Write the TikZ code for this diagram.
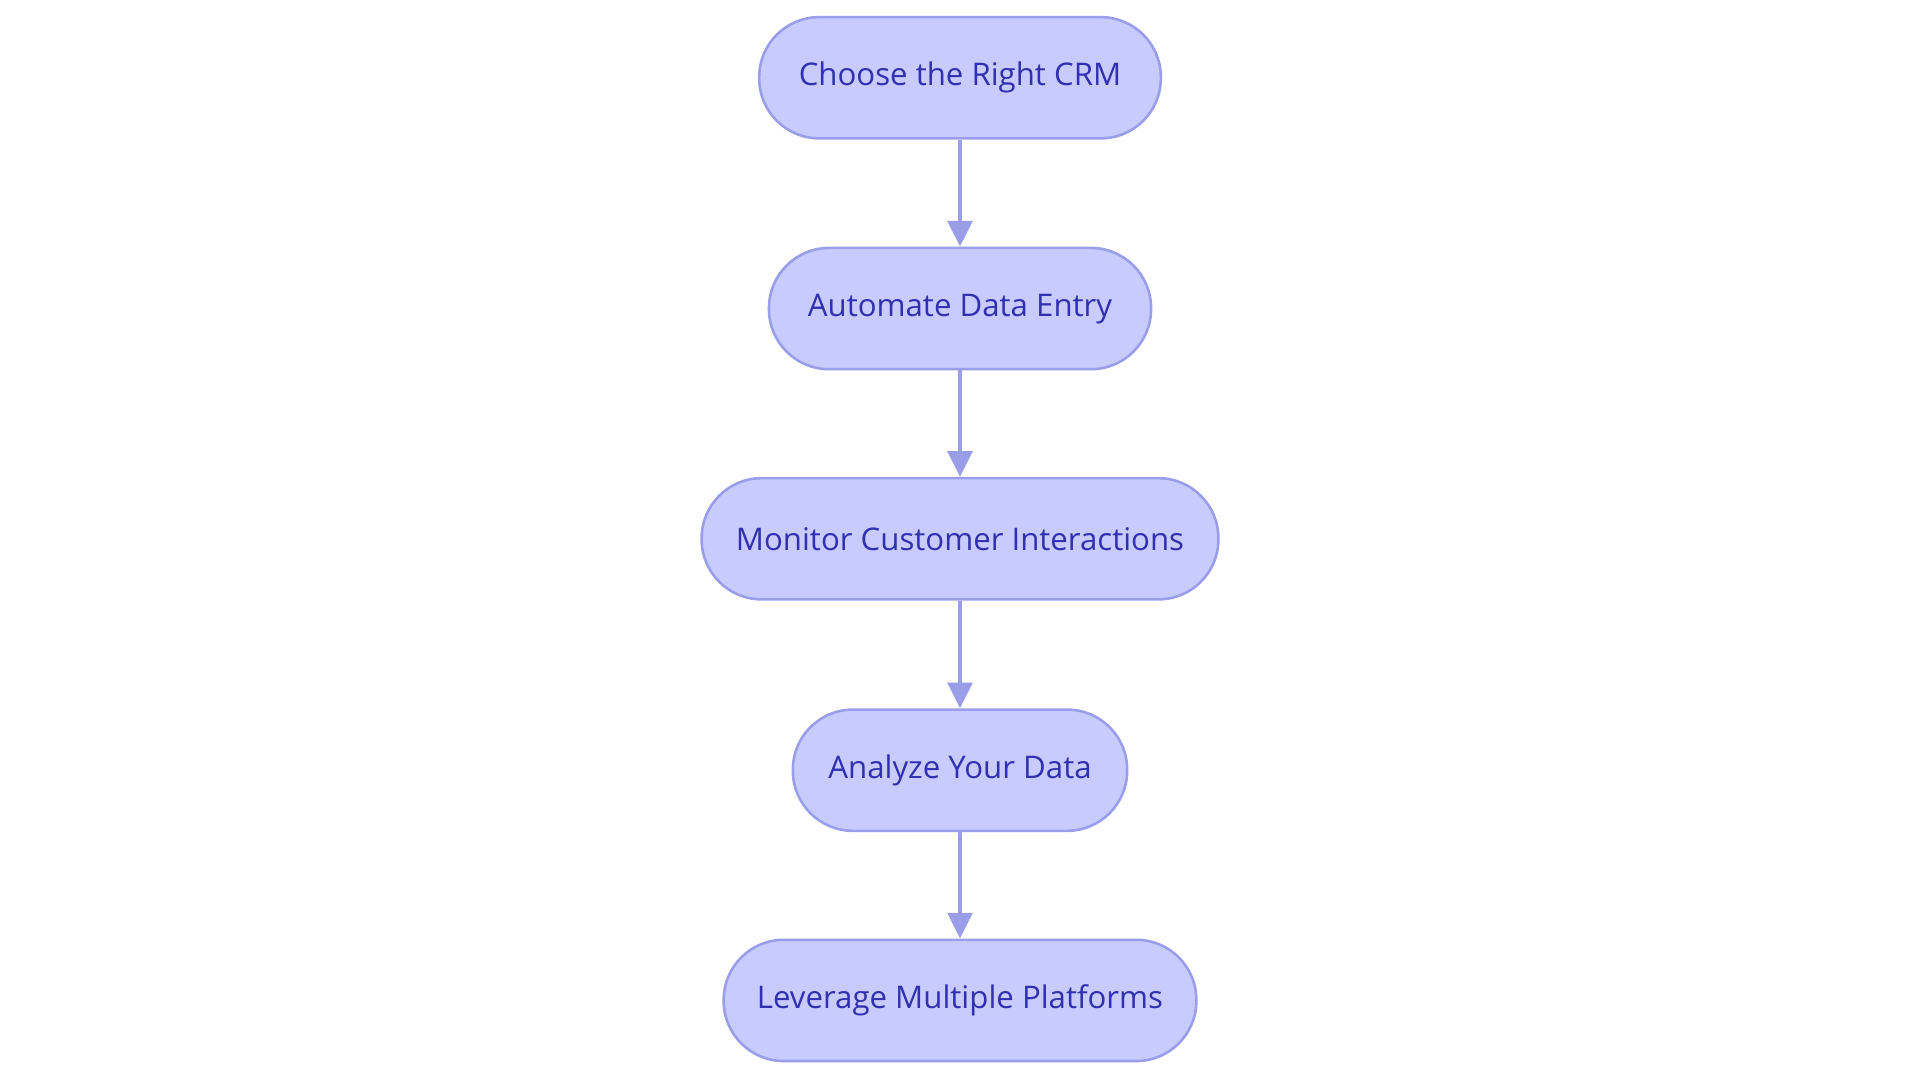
\documentclass[tikz,border=0pt]{standalone}
\usepackage{fontspec}
\setmainfont{Open Sans}
\usetikzlibrary{arrows.meta,positioning}
\definecolor{stepfill}{HTML}{C8CBFE}
\definecolor{stepline}{HTML}{9A9EE8}
\definecolor{steptext}{HTML}{3030B0}
\tikzset{
	crmstep/.style={draw=stepline, line width=1.2pt, fill=stepfill, rounded corners=0.98cm,
		minimum height=1.98cm, text=steptext, font=\fontsize{14.5}{17}\selectfont},
	flow/.style={-{Triangle[length=0.42cm,width=0.4cm]}, draw=stepline, line width=2pt}
}
\begin{document}
\begin{tikzpicture}
	\useasboundingbox (0,0) rectangle (31.36,-17.68);
	
	\node[crmstep, minimum width=6.56cm] (crm) at (15.68,-1.27) {Choose the Right CRM};
	\node[crmstep, minimum width=6.24cm] (entry) at (15.68,-5.04) {Automate Data Entry};
	\node[crmstep, minimum width=8.44cm] (monitor) at (15.68,-8.80) {Monitor Customer Interactions};
	\node[crmstep, minimum width=5.46cm] (analyze) at (15.68,-12.58) {Analyze Your Data};
	\node[crmstep, minimum width=7.72cm] (platforms) at (15.68,-16.34) {Leverage Multiple Platforms};
	
	\draw[flow] (crm) -- (entry);
	\draw[flow] (entry) -- (monitor);
	\draw[flow] (monitor) -- (analyze);
	\draw[flow] (analyze) -- (platforms);
\end{tikzpicture}
\end{document}
